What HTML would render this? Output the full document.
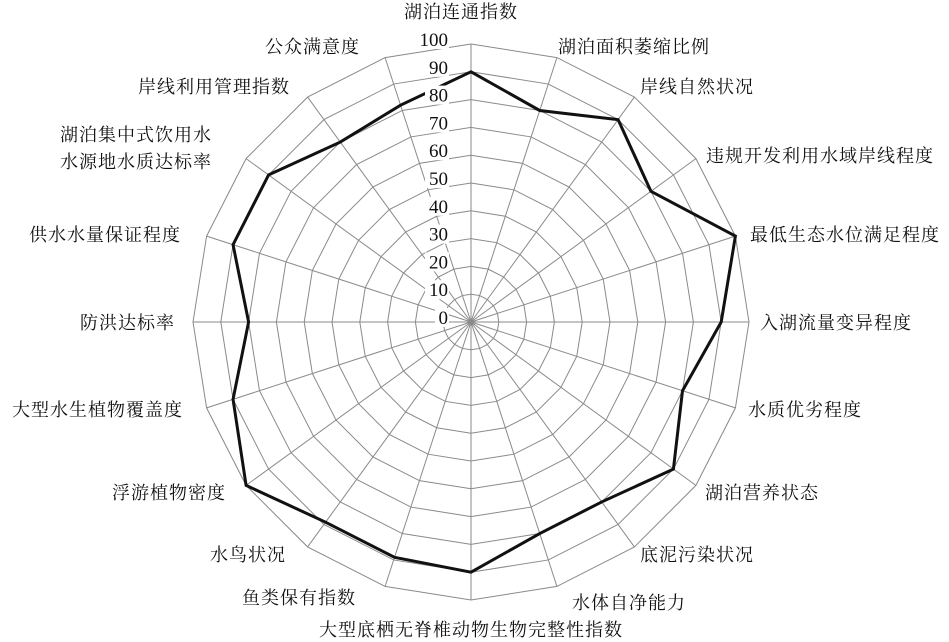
<!DOCTYPE html>
<html><head><meta charset="utf-8"><style>
html,body{margin:0;padding:0;background:#fff;width:949px;height:642px;overflow:hidden}
svg text{font-family:"Liberation Serif","Noto Serif CJK SC",serif;fill:#111}
</style></head><body>
<svg id="s" width="949" height="642" xmlns="http://www.w3.org/2000/svg">
<g id="g"></g>
<g font-size="18" letter-spacing="1">
<text x="461" y="18" text-anchor="middle">湖泊连通指数</text>
<text x="558" y="53">湖泊面积萎缩比例</text>
<text x="640" y="93">岸线自然状况</text>
<text x="706" y="162">违规开发利用水域岸线程度</text>
<text x="750" y="241">最低生态水位满足程度</text>
<text x="760" y="329">入湖流量变异程度</text>
<text x="748" y="416">水质优劣程度</text>
<text x="705" y="499">湖泊营养状态</text>
<text x="640" y="561">底泥污染状况</text>
<text x="572" y="609">水体自净能力</text>
<text x="471" y="636" text-anchor="middle">大型底栖无脊椎动物生物完整性指数</text>
<text x="356" y="604" text-anchor="end">鱼类保有指数</text>
<text x="286" y="561" text-anchor="end">水鸟状况</text>
<text x="226" y="499" text-anchor="end">浮游植物密度</text>
<text x="183" y="416" text-anchor="end">大型水生植物覆盖度</text>
<text x="175" y="329" text-anchor="end">防洪达标率</text>
<text x="181" y="241" text-anchor="end">供水水量保证程度</text>
<text x="60" y="141">湖泊集中式饮用水</text>
<text x="60" y="168">水源地水质达标率</text>
<text x="290" y="93" text-anchor="end">岸线利用管理指数</text>
<text x="360" y="53" text-anchor="end">公众满意度</text>
</g>
</svg>
<script>
var cx=471,cy=322,R=278,N=20,ns="http://www.w3.org/2000/svg",g=document.getElementById('g');
function el(t,a){var e=document.createElementNS(ns,t);for(var k in a)e.setAttribute(k,a[k]);g.appendChild(e);return e;}
function pt(i,r){var a=i*Math.PI*2/N;return [cx+r*Math.sin(a),cy-r*Math.cos(a)];}
for(var k=1;k<=10;k++){var p=[];for(var i=0;i<N;i++)p.push(pt(i,R*k/10).join(','));el('polygon',{points:p.join(' '),fill:'none',stroke:'#8a8a8a','stroke-width':1});}
for(var i=0;i<N;i++){var q=pt(i,R);el('line',{x1:cx,y1:cy,x2:q[0],y2:q[1],stroke:'#8a8a8a','stroke-width':1});}
var v=[90,80,90,80,100,90,80,90,80,80,90,89,89,100,90,80,90,90,80,82];
var p=[];for(var i=0;i<N;i++)p.push(pt(i,R*v[i]/100).join(','));
el('polygon',{points:p.join(' '),fill:'none',stroke:'#111','stroke-width':3,'stroke-linejoin':'miter'});
for(var k=0;k<=10;k++){var y=cy-R*k/10-4;var t=String(k*10);var w=t.length*10+4;
el('rect',{x:449-w,y:y-10,width:w,height:19,fill:'#fff'});
var e=el('text',{x:448,y:y+6,'text-anchor':'end','font-size':19});e.textContent=t;}
</script>
</body></html>
